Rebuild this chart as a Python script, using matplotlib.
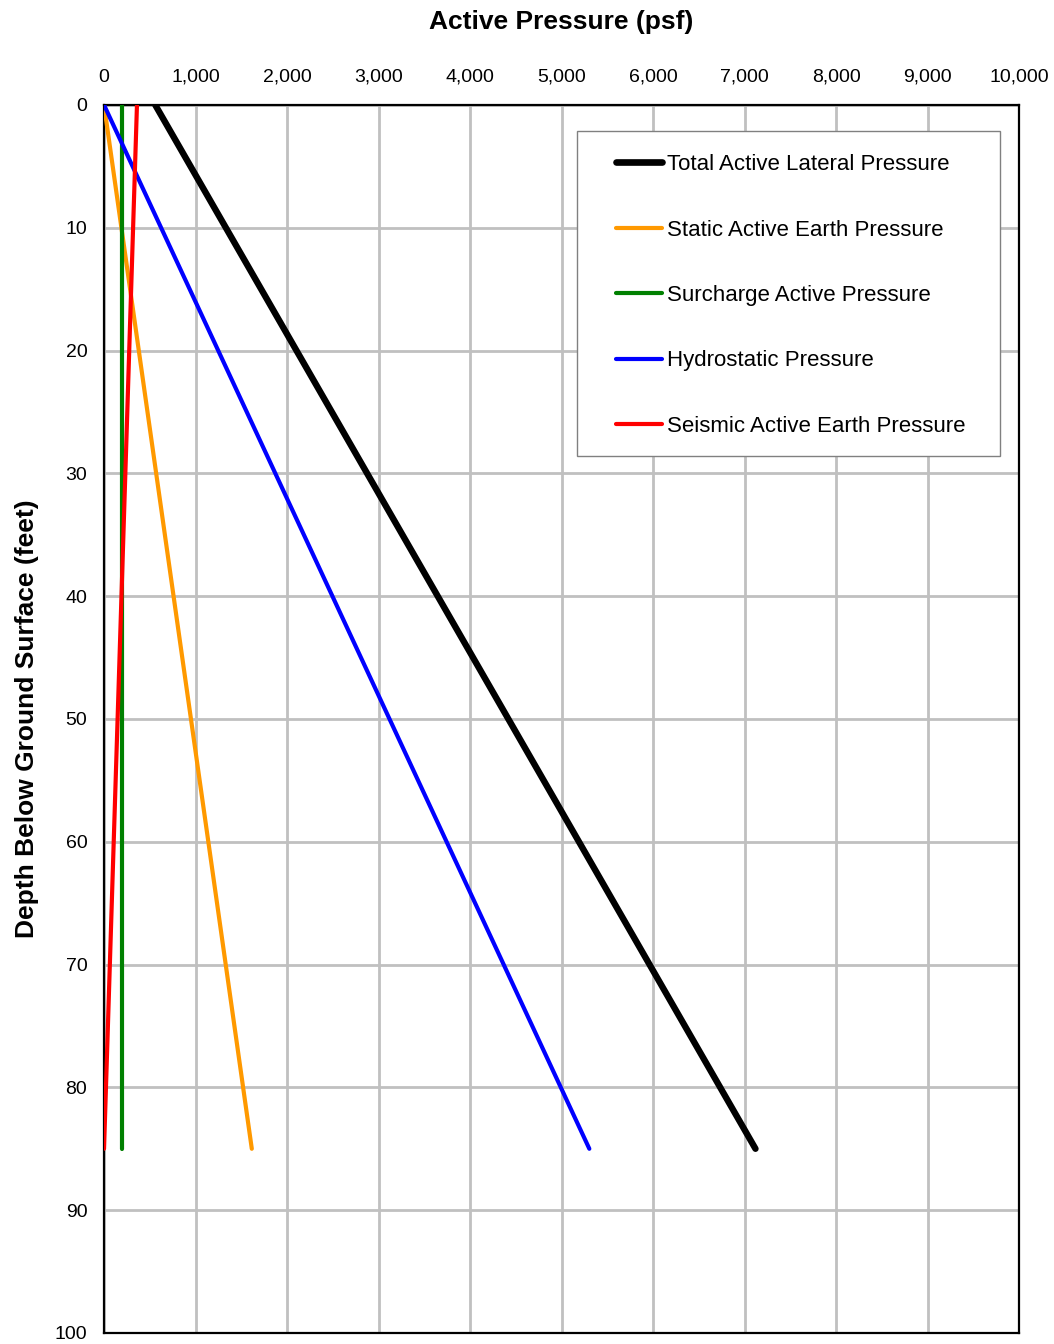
import matplotlib.pyplot as plt
from matplotlib.patches import Rectangle
from matplotlib.ticker import FuncFormatter

plt.rcParams['font.family'] = ['Liberation Sans', 'DejaVu Sans']

# depth below ground surface (feet)
depth = [0, 85]

# pressures (psf) at top and bottom of wall
total_active = [560, 7120]
static_active = [0, 1615]
surcharge_active = [200, 200]
hydrostatic = [0, 5304]
seismic_active = [360, 0]

x_ticks = list(range(0, 10001, 1000))
y_ticks = list(range(0, 101, 10))


def draw_chart():
    """
    draw lateral pressure vs depth chart
    """
    fig = plt.figure(figsize=(10.54, 13.44), dpi=100)
    ax = fig.add_axes([0.0987, 0.0082, 0.8681, 0.9137])

    ax.plot(total_active, depth, color='black', lw=4.6, solid_capstyle='round',
            label='Total Active Lateral Pressure', zorder=6)
    ax.plot(static_active, depth, color='#ff9900', lw=3, solid_capstyle='round',
            label='Static Active Earth Pressure', zorder=3)
    ax.plot(surcharge_active, depth, color='#008000', lw=3, solid_capstyle='round',
            label='Surcharge Active Pressure', zorder=4)
    ax.plot(hydrostatic, depth, color='#0000ff', lw=3, solid_capstyle='round',
            label='Hydrostatic Pressure', zorder=5)
    ax.plot(seismic_active, depth, color='#ff0000', lw=3, solid_capstyle='round',
            label='Seismic Active Earth Pressure', zorder=5)

    ax.set_xlim(0, 10000)
    ax.set_ylim(100, 0)
    ax.set_xticks(x_ticks)
    ax.set_yticks(y_ticks)
    ax.xaxis.set_major_formatter(FuncFormatter(lambda v, p: f'{int(v):,}'))
    ax.xaxis.tick_top()
    ax.xaxis.set_label_position('top')
    ax.tick_params(length=0, labelsize=14, pad=14)
    ax.tick_params(axis='y', pad=12)
    ax.grid(True, color='#c0c0c0', lw=2)
    ax.set_axisbelow(True)
    for sp in ax.spines.values():
        sp.set_linewidth(1.6)

    ax.set_xlabel('Active Pressure (psf)', fontsize=19, fontweight='bold')
    ax.set_ylabel('Depth Below Ground Surface (feet)', fontsize=19, fontweight='bold')
    ax.xaxis.set_label_coords(0.5, 1.0619)
    ax.yaxis.set_label_coords(-0.071, 0.5)

    # legend box
    ax.add_patch(Rectangle((0.517, 0.714), 0.462, 0.265, transform=ax.transAxes,
                           facecolor='white', edgecolor='#808080', lw=1, zorder=9))

    leg = ax.legend(loc='upper left', bbox_to_anchor=(0.5596, 0.960), fontsize=16,
                    frameon=False, handlelength=2.07, handletextpad=0.22,
                    labelspacing=2.0, borderpad=0, borderaxespad=0)
    leg.get_lines()[0].set_linewidth(4.8)
    leg.set_zorder(10)

    fig.savefig('out.png', dpi=100)


if __name__ == "__main__":
    draw_chart()
